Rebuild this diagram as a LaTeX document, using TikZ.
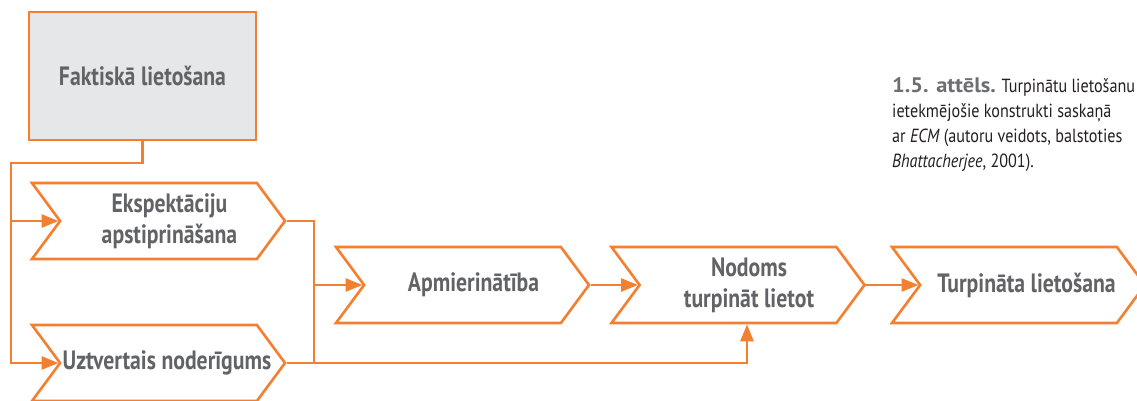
\documentclass[tikz,border=0pt]{standalone}
\usepackage{fontspec}
\setmainfont{PT Sans}[FakeStretch=0.82]
\newfontfamily\capfont{PT Sans}[FakeStretch=0.85]
\newfontfamily\capboldfont{PT Sans}[FakeStretch=1.07]
\usetikzlibrary{arrows.meta,shapes.symbols}
\definecolor{orangeline}{RGB}{243,127,48}
\definecolor{boxgray}{RGB}{230,231,232}
\definecolor{labelgray}{RGB}{98,99,102}
\definecolor{capgray}{RGB}{109,110,113}
\definecolor{capblack}{RGB}{35,31,32}
\tikzset{
  wire/.style={line width=2.6pt, orangeline},
  wirearrow/.style={wire, -{Triangle[length=17pt,width=13pt]}},
  factbox/.style={draw=orangeline, line width=2.6pt, fill=boxgray, minimum width=227pt, minimum height=128pt, inner sep=0pt, font=\fontsize{26.5}{30}\selectfont\bfseries, text=labelgray},
  chevbox/.style={signal, signal from=west, signal to=east, signal pointer angle=107, draw=orangeline, fill=white, line width=2.6pt, minimum width=253pt, minimum height=76pt, inner sep=0pt},
  chevtext/.style={font=\fontsize{26.5}{31}\selectfont\bfseries, text=labelgray, align=center},
  captext/.style={font=\capfont\fontsize{19}{25}\selectfont, text=capblack, align=left, inner sep=0pt},
}
\begin{document}
\begin{tikzpicture}[x=1pt,y=-1pt]
\useasboundingbox (0,0) rectangle (1137,400);
% boxes
\node[factbox] (fakt) at (142.5,76) {Faktiskā lietošana};
\node[chevbox, label={[chevtext,xshift=11pt]center:{Ekspektāciju\\apstiprināšana}}] (eksp) at (158.5,221) {};
\node[chevbox, label={[chevtext,xshift=8.5pt]center:{Uztvertais noderīgums}}] (uzt) at (158.5,363) {};
\node[chevbox, label={[chevtext,xshift=11pt]center:{Apmierinātība}}] (apm) at (462.5,285) {};
\node[chevbox, label={[chevtext,xshift=11pt]center:{Nodoms\\turpināt lietot}}] (nod) at (738,285) {};
\node[chevbox, label={[chevtext,xshift=8pt]center:{Turpināta lietošana}}] (turp) at (1018.5,285) {};
% caption
\node[captext, anchor=north west] (capt) at (892,77) {{\capboldfont\fontsize{21}{25}\selectfont\bfseries\color{capgray}1.5. attēls.} Turpinātu lietošanu\\ietekmējošie konstrukti saskaņā\\ar \textit{ECM} (autoru veidots, balstoties\\\textit{Bhattacherjee}, 2001).};
% connectors
\coordinate (bend) at (11,163);
\coordinate (merge) at (314,363);
\draw[wirearrow] (fakt.south) |- (bend) |- (uzt.west);
\draw[wirearrow] (bend |- eksp.west) -- (eksp.west);
\draw[wire] (eksp.east) -| (merge);
\draw[wirearrow] (merge |- apm.west) -- (apm.west);
\draw[wirearrow] (uzt.east) -| ([xshift=9pt]nod.south);
\draw[wirearrow] (apm.east) -- (nod.west);
\draw[wirearrow] (nod.east) -- (turp.west);
\end{tikzpicture}
\end{document}
